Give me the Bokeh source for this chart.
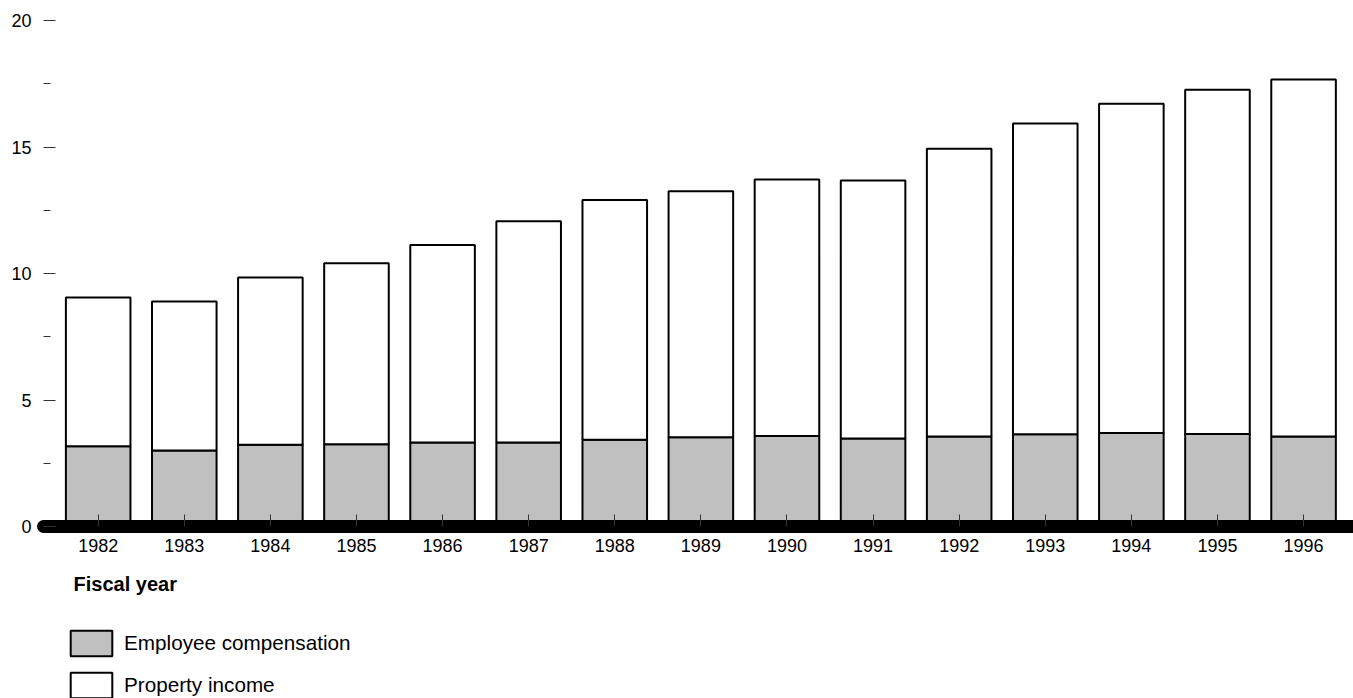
from bokeh.plotting import figure
from bokeh.models import (ColumnDataSource, Range1d, FixedTicker, Legend, LegendItem, Label)
from bokeh.layouts import column
from bokeh.embed import file_html
from bokeh.resources import INLINE

years = [1982, 1983, 1984, 1985, 1986, 1987, 1988, 1989, 1990, 1991, 1992, 1993, 1994, 1995, 1996]
employee_compensation = [3.17, 3.00, 3.23, 3.25, 3.32, 3.32, 3.43, 3.53, 3.58, 3.48, 3.56, 3.65, 3.70, 3.66, 3.56]
property_income = [5.88, 5.89, 6.61, 7.16, 7.81, 8.75, 9.48, 9.72, 10.14, 10.20, 11.37, 12.28, 13.01, 13.60, 14.11]
y_major_ticks = [0, 5, 10, 15, 20]
y_minor_ticks = [2.5, 7.5, 12.5, 17.5]
series_names = ["Employee compensation", "Property income"]
series_colors = ["#c0c0c0", "#ffffff"]
x_label = "Fiscal year"

FONT = "Liberation Sans"

source = ColumnDataSource(dict(year=years, emp=employee_compensation, prop=property_income))

p = figure(width=1353, height=568, output_backend="svg", toolbar_location=None,
           x_range=Range1d(1981.365, 1996.58), y_range=Range1d(0, 20),
           min_border_left=43, min_border_right=0, min_border_top=20, min_border_bottom=42)
p.outline_line_color = None
p.xgrid.visible = False
p.ygrid.visible = False

p.vbar_stack(["emp", "prop"], x="year", width=0.75, color=series_colors,
             line_color="black", line_width=2, source=source)

# x axis: thick rounded baseline
xa = p.xaxis[0]
xa.ticker = FixedTicker(ticks=years)
xa.axis_line_width = 13
xa.axis_line_color = "black"
xa.axis_line_cap = "round"
xa.major_tick_in = 12
xa.major_tick_out = 0
xa.major_tick_line_color = "#333333"
xa.minor_tick_line_color = None
xa.major_label_standoff = 12
xa.major_label_text_font = FONT
xa.major_label_text_font_size = "18px"
xa.major_label_text_color = "black"

ya = p.yaxis[0]
ya.ticker = FixedTicker(ticks=y_major_ticks, minor_ticks=y_minor_ticks)
ya.axis_line_color = None
ya.major_tick_in = 12
ya.major_tick_out = 0
ya.minor_tick_in = 7
ya.minor_tick_out = 0
ya.major_tick_line_color = "#333333"
ya.minor_tick_line_color = "#333333"
ya.major_label_standoff = 12
ya.major_label_text_font = FONT
ya.major_label_text_font_size = "18px"
ya.major_label_text_color = "black"

# lower panel: axis title and legend
p2 = figure(width=1353, height=130, output_backend="svg", toolbar_location=None,
            x_range=Range1d(0, 1), y_range=Range1d(0, 1),
            x_axis_type=None, y_axis_type=None, min_border=0)
p2.outline_line_color = None
p2.xgrid.visible = False
p2.ygrid.visible = False

# hidden proxies, so that the legend has glyph styles to draw
proxy = ColumnDataSource(dict(x=[-10.0], top=[-10.0], bottom=[-11.0]))
r_emp = p2.vbar(x="x", top="top", bottom="bottom", width=0.1, source=proxy,
                fill_color=series_colors[0], line_color="black", line_width=2)
r_prop = p2.vbar(x="x", top="top", bottom="bottom", width=0.1, source=proxy,
                 fill_color=series_colors[1], line_color="black", line_width=2)
r_emp.visible = False
r_prop.visible = False

legend = Legend(items=[LegendItem(label=series_names[0], renderers=[r_emp]),
                       LegendItem(label=series_names[1], renderers=[r_prop])],
                location=(22, -3), orientation="vertical",
                glyph_width=52, glyph_height=32, spacing=10, label_standoff=7,
                label_text_font=FONT, label_text_font_size="20.7px",
                label_text_color="black", padding=0, margin=0,
                border_line_color=None, background_fill_alpha=0)
p2.add_layout(legend, "center")

p2.add_layout(Label(x=30, y=115, x_units="screen", y_units="screen", text=x_label,
                    text_font=FONT, text_font_style="bold", text_font_size="20px",
                    text_baseline="middle", text_color="black"))

layout = column(p, p2)
open("out.html", "w").write(file_html(layout, INLINE))
